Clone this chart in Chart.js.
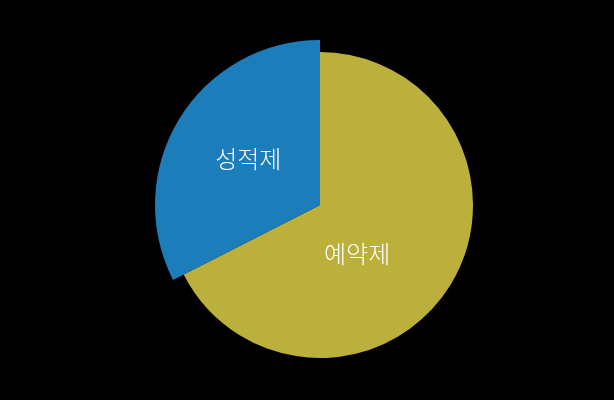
<!DOCTYPE html>
<html lang="ko">
<head>
  <meta charset="UTF-8">
  <title>예약제 / 성적제</title>
  <script src="https://cdn.jsdelivr.net/npm/chart.js"></script>
  <style>
    html, body {
      margin: 0;
      padding: 0;
      background: #000;
    }
    #wrap {
      width: 614px;
      height: 400px;
    }
  </style>
</head>
<body>
  <div id="wrap"><canvas id="pieChart"></canvas></div>

  <script>
    // slice data
    const labels = ['예약제', '성적제'];
    const values = [67.5, 32.5];
    const colors = ['#bcb03c', '#1b7dba'];

    // blue slice is drawn with a larger radius than the other one
    const bulge = [0, 12];
    // label placement: extra angle (deg) from the slice mid-angle, distance from centre (px)
    const labelShift = [[21, 61], [1, 85]];

    const sliceTweaks = {
      id: 'sliceTweaks',
      afterDatasetsUpdate(chart) {
        const meta = chart.getDatasetMeta(0);
        meta.data.forEach((arc, i) => {
          arc.outerRadius += bulge[i];
        });
      },
      afterDatasetsDraw(chart) {
        const ctx = chart.ctx;
        const meta = chart.getDatasetMeta(0);
        ctx.save();
        ctx.fillStyle = '#ffffff';
        ctx.font = '300 24px "Noto Sans CJK KR", sans-serif';
        ctx.textAlign = 'center';
        ctx.textBaseline = 'middle';
        meta.data.forEach((arc, i) => {
          const mid = (arc.startAngle + arc.endAngle) / 2 + labelShift[i][0] * Math.PI / 180;
          const r = labelShift[i][1];
          ctx.fillText(labels[i], arc.x + Math.cos(mid) * r, arc.y + Math.sin(mid) * r);
        });
        ctx.restore();
      }
    };

    new Chart(document.getElementById('pieChart'), {
      type: 'pie',
      data: {
        labels: labels,
        datasets: [{
          data: values,
          backgroundColor: colors,
          borderWidth: 0,
          hoverOffset: 0
        }]
      },
      options: {
        responsive: true,
        maintainAspectRatio: false,
        animation: false,
        layout: {
          padding: { top: 52, bottom: 42, left: 167, right: 141 }
        },
        plugins: {
          legend: { display: false },
          tooltip: { enabled: false }
        }
      },
      plugins: [sliceTweaks]
    });
  </script>
</body>
</html>
